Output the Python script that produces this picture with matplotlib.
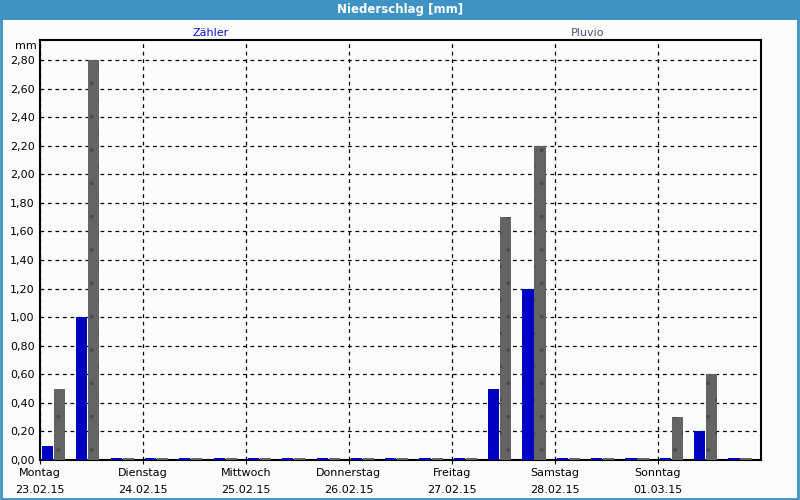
import numpy as np
import matplotlib.pyplot as plt
from matplotlib.patches import Rectangle

# 8-hour intervals, 23.02.15 00:00 to 02.03.15 00:00
interval_start_h = np.arange(0, 168, 8)
zaehler = [0.10, 1.00, 0, 0, 0, 0, 0, 0, 0, 0, 0, 0, 0, 0.50, 1.20,
           0, 0, 0, 0, 0.20, 0]
pluvio = [0.50, 2.80, 0, 0, 0, 0, 0, 0, 0, 0, 0, 0, 0, 1.70, 2.20,
          0, 0, 0, 0.30, 0.60, 0]
day_names = ['Montag', 'Dienstag', 'Mittwoch', 'Donnerstag', 'Freitag', 'Samstag', 'Sonntag']
day_dates = ['23.02.15', '24.02.15', '25.02.15', '26.02.15', '27.02.15', '28.02.15', '01.03.15']
yticks = np.arange(0, 2.81, 0.2)

plt.rcParams['hatch.linewidth'] = 0.3
frame_blue = '#3E92C4'
fig = plt.figure(figsize=(8, 5), dpi=100, facecolor='#FBFDFB')

# title bar and outer border
fig.patches.append(Rectangle((0, 0.96), 1, 0.04, transform=fig.transFigure,
                             facecolor=frame_blue, edgecolor='none'))
fig.patches.append(Rectangle((0.001, 0.002), 0.997, 0.996, transform=fig.transFigure,
                             facecolor='none', edgecolor=frame_blue, linewidth=2))
fig.text(0.5, 0.981, 'Niederschlag [mm]', color='white', fontsize=8.5,
         fontweight='bold', ha='center', va='center')

ax = fig.add_axes([0.05, 0.08, 0.901, 0.84])
ax.set_facecolor('#FBFDFB')

w = 2.6
min_h = 0.012  # zero values still show as a thin stub
ax.bar(interval_start_h + 1.75, np.maximum(zaehler, min_h), width=w,
       color='#0000C0', linewidth=0, zorder=3)
ax.bar(interval_start_h + 4.55, np.maximum(pluvio, min_h), width=w,
       color='#646464', edgecolor='#4A4A4A', hatch='.', linewidth=0, zorder=3)

ax.set_xlim(0, 168)
ax.set_ylim(0, 2.94)
ax.set_yticks(yticks)
ax.set_yticklabels([f'{v:.2f}'.replace('.', ',') for v in yticks], fontsize=8)
ax.set_xticks(np.arange(0, 168, 24))
ax.set_xticklabels([f'{n}\n{d}' for n, d in zip(day_names, day_dates)],
                   fontsize=8, linespacing=1.85)
ax.tick_params(axis='y', length=0, pad=4)
ax.tick_params(axis='x', length=3, pad=3, direction='out')
ax.grid(True, color='black', linestyle=(0, (3, 3)), linewidth=0.9, zorder=1)
for s in ax.spines.values():
    s.set_linewidth(1.5)
    s.set_color('black')

ax.text(-0.005, 0.985, 'mm', transform=ax.transAxes, fontsize=8, ha='right', va='center')
fig.text(0.263, 0.935, 'Zähler', color='#1010D0', fontsize=8, ha='center', va='center')
fig.text(0.735, 0.935, 'Pluvio', color='#505080', fontsize=8, ha='center', va='center')

fig.savefig('out.png', dpi=100, facecolor=fig.get_facecolor())
